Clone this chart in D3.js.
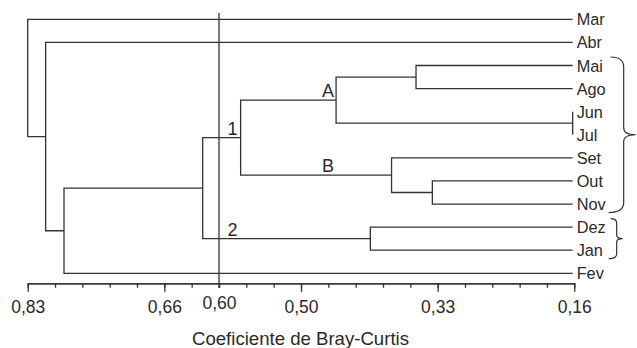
<!DOCTYPE html>
<html><head><meta charset="utf-8">
<script src="https://cdn.jsdelivr.net/npm/d3@7"></script>
<style>
html,body{margin:0;padding:0;background:#fff;}
svg{display:block;font-family:"Liberation Sans",Arial,sans-serif;}
</style></head><body>
<svg id="chart" width="637" height="348"></svg>
<script>
// Leaves of the dendrogram, top to bottom
const leaves = ["Mar","Abr","Mai","Ago","Jun","Jul","Set","Out","Nov","Dez","Jan","Fev"];
const leafLevel = 0.162;
// Agglomeration steps: [child, child, coefficient]; step i becomes node "c"+i
const merges = [
  ["Jun", "Jul", 0.162],
  ["Mai", "Ago", 0.354],
  ["Out", "Nov", 0.334],
  ["Set", "c2", 0.384],
  ["c1", "c0", 0.452],
  ["c4", "c3", 0.569],
  ["Dez", "Jan", 0.410],
  ["c5", "c6", 0.6155],
  ["c7", "Fev", 0.7855],
  ["Abr", "c8", 0.808],
  ["Mar", "c9", 0.830]
];
// Group names: [text, labelled node, node whose level anchors the text]
const groupLabels = [["A","c4","c4"],["B","c3","c4"],["1","c5","c5"],["2","c6","c5"]];
// Braces grouping leaf ranges
const braces = [["Mai","Nov"],["Dez","Jan"]];
// Axis
const axisTicks = [0.83, 0.6625, 0.495, 0.3275, 0.16];
const axisLabels = ["0,83","0,66","0,50","0,33","0,16"];
const minorTicks = d3.range(21).map(i => 0.83 - i * 0.0335);
const cutValue = 0.5955, cutLabel = "0,60";
const axisTitle = "Coeficiente de Bray-Curtis";

const ink = "#2a2a2a", stroke = "#333", sw = 1.3;
const svg = d3.select("#chart");
const x = d3.scaleLinear().domain([0.83, 0.16]).range([27.7, 574.3]);
const y = d3.scalePoint().domain(leaves).range([19.3, 273.3]);
const axisY = 283.3;

// node positions
const pos = {};
leaves.forEach(n => pos[n] = {x: x(leafLevel), y: y(n)});
merges.forEach(([a, b, h], i) => {
  pos["c" + i] = {x: x(h), y: (pos[a].y + pos[b].y) / 2};
});

const g = svg.append("g");
g.selectAll("path.link").data(merges).join("path")
  .attr("class", "link")
  .attr("fill", "none").attr("stroke", stroke).attr("stroke-width", sw)
  .attr("d", ([a, b, h]) => {
    const pa = pos[a], pb = pos[b], xm = x(h);
    return `M${pa.x},${pa.y}H${xm}V${pb.y}H${pb.x}`;
  });

// cut line
g.append("line")
  .attr("x1", x(cutValue)).attr("x2", x(cutValue))
  .attr("y1", 13).attr("y2", axisY + 4.5)
  .attr("stroke", stroke).attr("stroke-width", sw);

// leaf labels
g.selectAll("text.leaf").data(leaves).join("text")
  .attr("class", "leaf")
  .attr("x", x(leafLevel) + 4).attr("y", d => y(d)).attr("dy", "0.37em")
  .attr("font-size", 16.3).attr("fill", ink)
  .text(d => d);

// group labels
g.selectAll("text.grp").data(groupLabels).join("text")
  .attr("class", "grp")
  .attr("x", d => pos[d[2]].x - 8).attr("y", d => pos[d[1]].y - 3)
  .attr("text-anchor", "middle").attr("font-size", 18).attr("fill", ink)
  .text(d => d[0]);

// braces
braces.forEach(([first, last]) => {
  const y0 = y(first) - 8.5, y1 = y(last) + 8.5, ym = (y0 + y1) / 2;
  const span = y1 - y0;
  const x0 = x(leafLevel) + 38;
  const arm = x0 + Math.min(13, span * 0.15);
  const tip = arm + Math.min(12, span * 0.15);
  const r = Math.min(10, span * 0.12);
  g.append("path")
    .attr("fill", "none").attr("stroke", stroke).attr("stroke-width", 1.2)
    .attr("d", `M${x0},${y0}Q${arm},${y0} ${arm},${y0 + r}L${arm},${ym - r * 0.7}` +
      `Q${arm},${ym} ${tip},${ym}Q${arm},${ym} ${arm},${ym + r * 0.7}` +
      `L${arm},${y1 - r}Q${arm},${y1} ${x0 - 2},${y1}`);
});

// axis: minor ticks (with the cut label) and major labelled ticks
const minorAxis = d3.axisBottom(x).tickValues(minorTicks.concat([cutValue]))
  .tickSize(4.5).tickSizeOuter(0).tickPadding(8.6)
  .tickFormat(d => d === cutValue ? cutLabel : "");
const majorAxis = d3.axisBottom(x).tickValues(axisTicks)
  .tickSize(8.5).tickSizeOuter(0).tickPadding(8.6)
  .tickFormat((d, i) => axisLabels[i]);
[minorAxis, majorAxis].forEach(ax => {
  const a = svg.append("g").attr("transform", `translate(0,${axisY})`).call(ax);
  a.selectAll("path.domain").attr("stroke", stroke).attr("stroke-width", sw);
  a.selectAll(".tick line").attr("stroke", stroke).attr("stroke-width", sw);
  a.selectAll(".tick text").attr("fill", ink)
    .attr("font-size", 17.5).attr("font-family", "Liberation Sans, Arial, sans-serif");
});

svg.append("text")
  .attr("x", 300.5).attr("y", 344.5).attr("text-anchor", "middle")
  .attr("font-size", 18.6).attr("fill", ink)
  .text(axisTitle);
</script>
</body></html>
